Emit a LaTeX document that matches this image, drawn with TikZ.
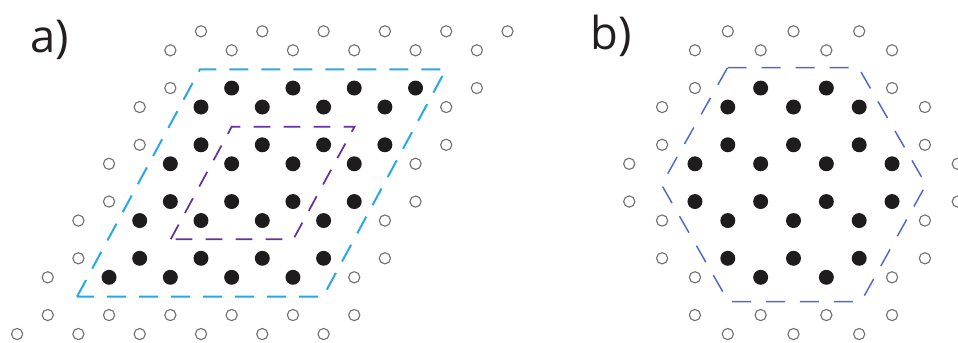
\documentclass[tikz,border=0pt]{standalone}
\usepackage{fontspec}
\setmainfont{Open Sans}
\definecolor{dotgray}{RGB}{115,115,115}
\definecolor{dotblack}{RGB}{30,28,29}
\definecolor{cellblue}{RGB}{40,168,232}
\definecolor{cellpurple}{RGB}{100,48,158}
\definecolor{hexblue}{RGB}{78,104,206}
\definecolor{labelblack}{RGB}{35,31,32}
\begin{document}
\begin{tikzpicture}[x=0.75pt,y=-0.75pt,
  opendot/.style={circle,draw=dotgray,line width=0.85pt,fill=white,inner sep=0pt,minimum size=8.4pt},
  fulldot/.style={circle,fill=dotblack,inner sep=0pt,minimum size=11.2pt},
  outercell/.style={draw=cellblue,line width=1.5pt,dash pattern=on 14.25pt off 9.75pt},
  innercell/.style={draw=cellpurple,line width=1.3pt,dash pattern=on 12.5pt off 10pt},
  hexcell/.style={draw=hexblue,line width=1.1pt,dash pattern=on 14.25pt off 11.25pt},
  panellabel/.style={anchor=base west,inner sep=0pt,font=\fontsize{34}{40}\selectfont,text=labelblack}]
\useasboundingbox (0,0) rectangle (958,343);

% ---------- panel a ----------
\foreach \k in {0,...,5} {
  \foreach \s in {0,1} {
    \pgfmathtruncatemacro\rr{2*\k+\s}
    \pgfmathsetmacro\yy{31.3+56.75*\k+19*\s}
    \pgfmathsetmacro\xs{201-30.65*(\k+\s)}
    \foreach \i in {0,...,5} {
      \pgfmathsetmacro\xx{\xs+61.3*\i}
      \pgfmathtruncatemacro\isfull{and(and(\rr>=2,\rr<=9),and(\i>=1,\i<=4))}
      \ifnum\isfull=1
        \node[fulldot] (a\rr-\i) at (\xx,\yy) {};
      \else
        \node[opendot] (a\rr-\i) at (\xx,\yy) {};
      \fi
    }
  }
}
\coordinate (aTL) at (200,69.3);
\coordinate (aTR) at (446,69.3);
\coordinate (aBR) at (323,296.7);
\coordinate (aBL) at (77,296.7);
\draw[outercell] (aBL) -- (aTL) -- (aTR) -- (aBR) -- cycle;
\coordinate (pTL) at (231.7,126.7);
\coordinate (pTR) at (354.5,126.7);
\coordinate (pBR) at (293.3,239.3);
\coordinate (pBL) at (170.7,239.3);
\draw[innercell] (pBL) -- (pTL) -- (pTR) -- (pBR) -- cycle;
\node[panellabel] (labela) at (30.5,52.5) {a)};

% ---------- panel b ----------
\foreach \rr/\yy/\n in {1/31.3/3,2/50.3/4,3/88.05/4,4/107.05/5,5/144.8/5,6/163.8/6,7/201.55/6,8/220.55/5,9/258.3/5,10/277.3/4,11/315.05/4,12/334.05/3} {
  \pgfmathtruncatemacro\last{\n-1}
  \foreach \j in {0,...,\last} {
    \pgfmathsetmacro\xx{793.5+(\j-(\n-1)/2)*65.7}
    \pgfmathtruncatemacro\isfull{and(and(\rr>=3,\rr<=10),and(\j>=1,\j<=\n-2))}
    \ifnum\isfull=1
      \node[fulldot] (b\rr-\j) at (\xx,\yy) {};
    \else
      \node[opendot] (b\rr-\j) at (\xx,\yy) {};
    \fi
  }
}
\coordinate (hL) at (661.5,184.7);
\coordinate (hTL) at (727.5,67.7);
\coordinate (hTR) at (858.5,67.7);
\coordinate (hR) at (926,184.7);
\coordinate (hBR) at (861,301.7);
\coordinate (hBL) at (728.5,301.7);
\draw[hexcell] (hTL) -- (hTR) -- (hR) -- (hBR) -- (hBL) -- (hL) -- cycle;
\node[panellabel] (labelb) at (590.5,49.5) {b)};
\end{tikzpicture}
\end{document}
